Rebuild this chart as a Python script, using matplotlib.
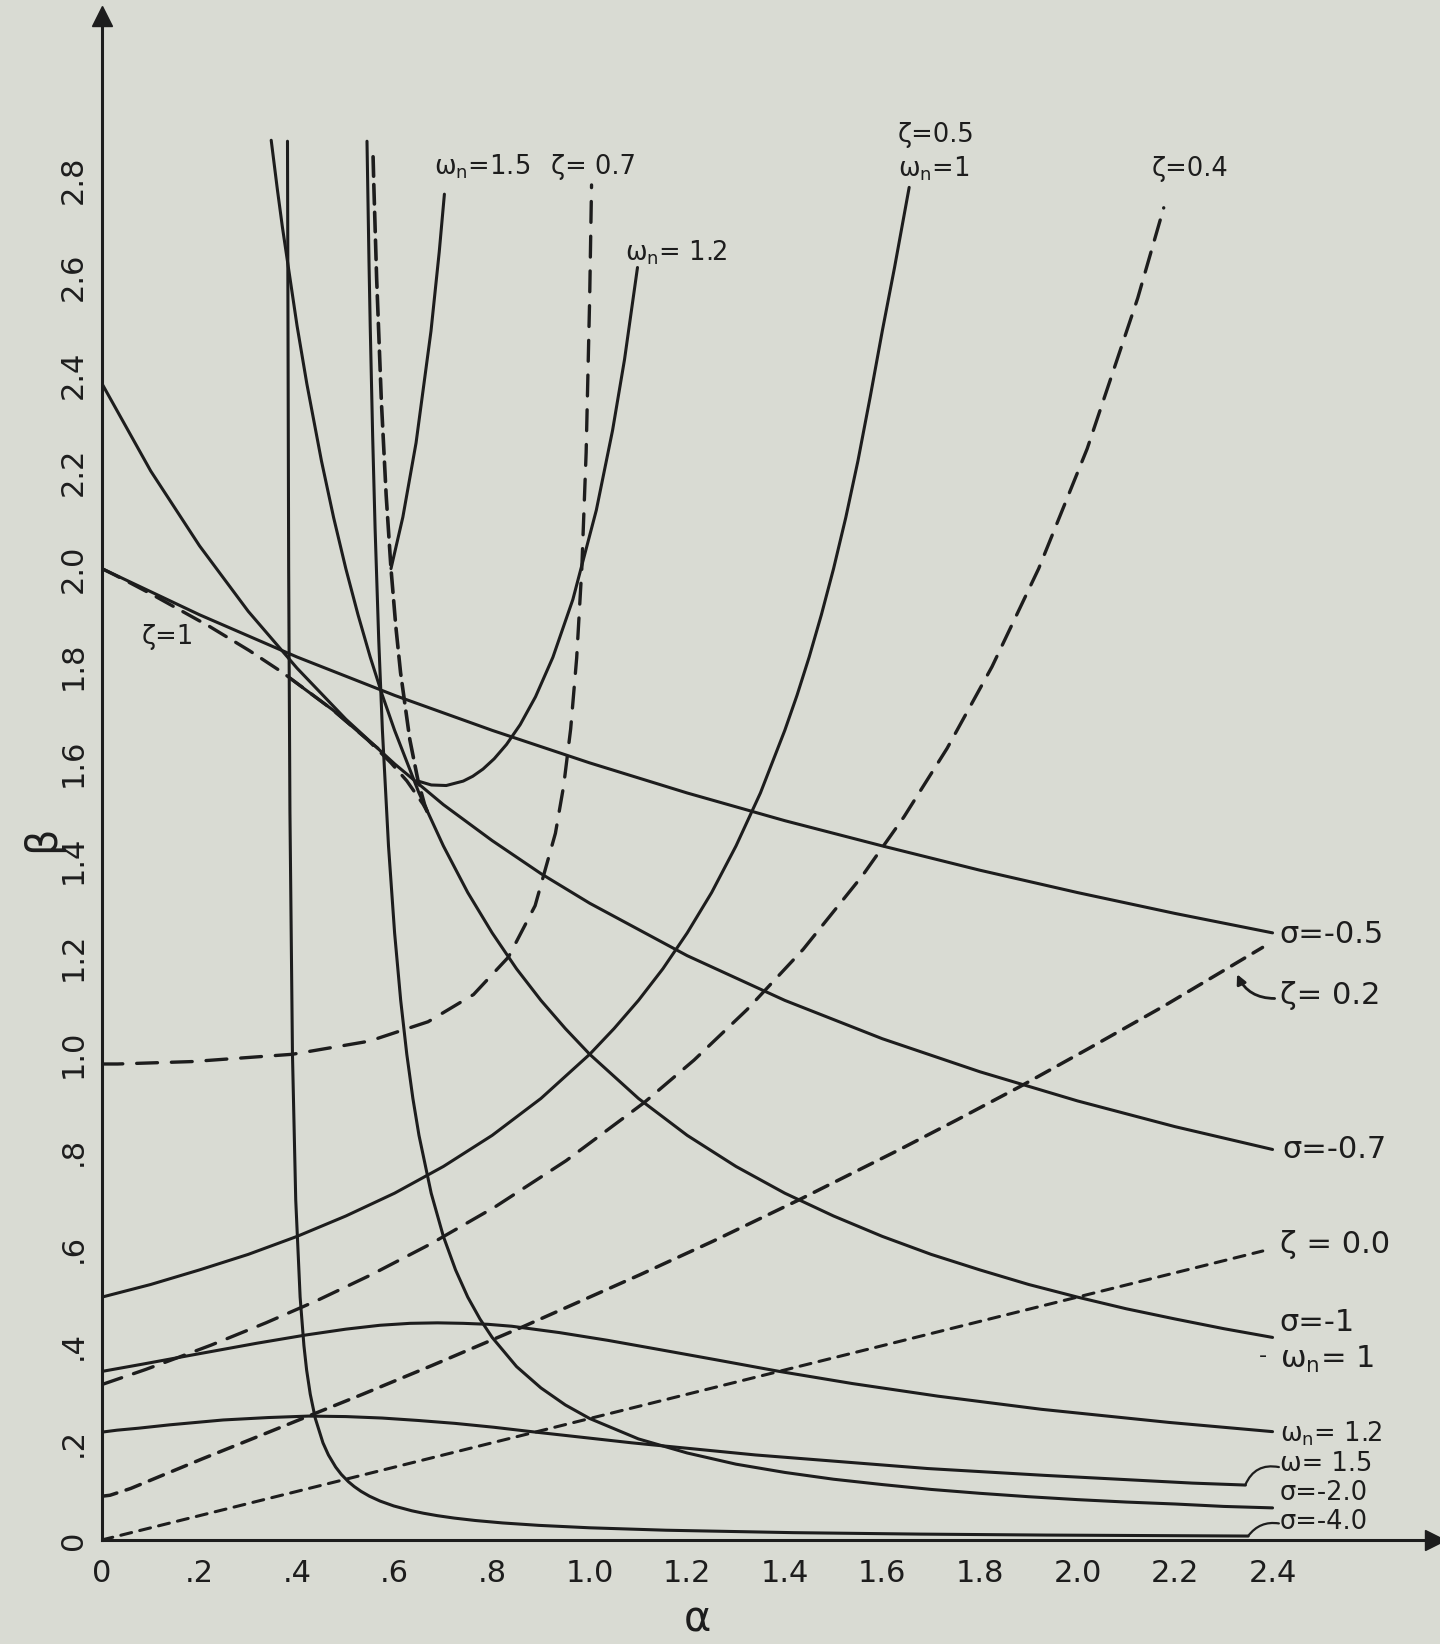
import matplotlib
matplotlib.use("Agg")
import matplotlib.pyplot as plt

plt.rcParams['font.family'] = ['DejaVu Sans']
plt.rcParams['mathtext.fontset'] = 'dejavusans'
plt.rcParams['mathtext.default'] = 'regular'
plt.rcParams['lines.scale_dashes'] = False

PAPER = '#d9dbd3'
INK = '#1d1d1d'

# ---- axis ticks -------------------------------------------------------
x_ticks = [0, 0.2, 0.4, 0.6, 0.8, 1.0, 1.2, 1.4, 1.6, 1.8, 2.0, 2.2, 2.4]
x_tick_labels = ['0', '.2', '.4', '.6', '.8', '1.0', '1.2', '1.4', '1.6',
                 '1.8', '2.0', '2.2', '2.4']
y_ticks = [0, 0.2, 0.4, 0.6, 0.8, 1.0, 1.2, 1.4, 1.6, 1.8, 2.0, 2.2, 2.4,
           2.6, 2.8]
y_tick_labels = ['0', '.2', '.4', '.6', '.8', '1.0', '1.2', '1.4', '1.6',
                 '1.8', '2.0', '2.2', '2.4', '2.6', '2.8']

# ---- constant real root (sigma) curves --------------------------------
sig05_a = [0, 0.2, 0.4, 0.6, 0.8, 1.0, 1.2, 1.4, 1.6, 1.8, 2.0, 2.2, 2.4]
sig05_b = [2.0, 1.905, 1.818, 1.739, 1.667, 1.6, 1.538, 1.481, 1.429, 1.379,
           1.333, 1.29, 1.25]

sig07_a = [0, 0.1, 0.2, 0.3, 0.4, 0.5, 0.6, 0.7, 0.8, 0.9, 1.0, 1.2, 1.4,
           1.6, 1.8, 2.0, 2.2, 2.4]
sig07_b = [2.381, 2.201, 2.047, 1.912, 1.795, 1.690, 1.598, 1.514, 1.44,
           1.372, 1.311, 1.203, 1.111, 1.032, 0.964, 0.904, 0.851, 0.804]

sig1_a = [0.347, 0.36, 0.37, 0.4, 0.42, 0.45, 0.475, 0.5, 0.525, 0.55, 0.575,
          0.6, 0.65, 0.7, 0.75, 0.8, 0.85, 0.9, 0.95, 1.0, 1.1, 1.2, 1.3,
          1.4, 1.5, 1.6, 1.7, 1.8, 1.9, 2.0, 2.1, 2.2, 2.3, 2.4]
sig1_b = [2.882, 2.778, 2.703, 2.5, 2.381, 2.222, 2.105, 2.0, 1.905, 1.818,
          1.739, 1.667, 1.538, 1.429, 1.333, 1.25, 1.176, 1.111, 1.053, 1.0,
          0.909, 0.833, 0.769, 0.714, 0.667, 0.625, 0.588, 0.556, 0.526,
          0.5, 0.476, 0.455, 0.435, 0.417]

sig2_a = [0.5434, 0.5475, 0.55, 0.555, 0.56, 0.5675, 0.575, 0.5875, 0.6,
          0.6125, 0.625, 0.6375, 0.65, 0.675, 0.7, 0.725, 0.75, 0.775, 0.8,
          0.85, 0.9, 0.95, 1.0, 1.1, 1.2, 1.3, 1.4, 1.5, 1.6, 1.7, 1.8, 1.9,
          2.0, 2.1, 2.2, 2.3, 2.4]
sig2_b = [2.88, 2.632, 2.5, 2.273, 2.083, 1.852, 1.667, 1.429, 1.25, 1.111,
          1.0, 0.909, 0.833, 0.714, 0.625, 0.556, 0.5, 0.455, 0.417, 0.357,
          0.313, 0.278, 0.25, 0.208, 0.179, 0.156, 0.139, 0.125, 0.114,
          0.104, 0.096, 0.089, 0.083, 0.078, 0.074, 0.069, 0.066]

sig4_a = [0.3804, 0.3828, 0.3854, 0.3906, 0.3973, 0.4063, 0.4141, 0.4196,
          0.4271, 0.4375, 0.4531, 0.4643, 0.4792, 0.4907, 0.5052, 0.5171,
          0.5313, 0.5486, 0.5703, 0.5982, 0.6354, 0.6591, 0.6875, 0.7222,
          0.7656, 0.8214, 0.8958, 1.0, 1.1563, 1.4167, 1.677, 1.9375, 2.35]
sig4_b = [2.88, 2.0, 1.5, 1.0, 0.7, 0.5, 0.4, 0.35, 0.3, 0.25, 0.2, 0.175,
          0.15, 0.135, 0.12, 0.11, 0.1, 0.09, 0.08, 0.07, 0.06, 0.055, 0.05,
          0.045, 0.04, 0.035, 0.03, 0.025, 0.02, 0.015, 0.012, 0.01, 0.008]

# ---- constant natural frequency curves --------------------------------
wn1_a = [0, 0.1, 0.2, 0.3, 0.4, 0.5, 0.6, 0.7, 0.8, 0.9, 1.0, 1.05, 1.1,
         1.15, 1.2, 1.25, 1.3, 1.35, 1.4, 1.425, 1.45, 1.475, 1.5, 1.525,
         1.55, 1.575, 1.6, 1.625, 1.655]
wn1_b = [0.5, 0.526, 0.556, 0.588, 0.625, 0.667, 0.714, 0.769, 0.833, 0.909,
         1.0, 1.053, 1.111, 1.176, 1.25, 1.333, 1.429, 1.538, 1.667, 1.739,
         1.818, 1.905, 2.0, 2.105, 2.222, 2.353, 2.49, 2.62, 2.785]

wn12_low_a = [0, 0.0834, 0.186, 0.3175, 0.4181, 0.5, 0.5698, 0.6316, 0.688,
              0.7407, 0.7912, 0.8403, 0.9375, 1.037, 1.1429, 1.2587, 1.3889,
              1.5385, 1.7143, 1.9259, 2.1875, 2.4]
wn12_low_b = [0.347, 0.362, 0.381, 0.405, 0.422, 0.434, 0.442, 0.446, 0.447,
              0.446, 0.444, 0.44, 0.427, 0.411, 0.392, 0.371, 0.347, 0.322,
              0.296, 0.269, 0.242, 0.223]

wn12_up_a = [0.6481, 0.6753, 0.7059, 0.7407, 0.7602, 0.7813, 0.8042, 0.8295,
             0.8575, 0.8889, 0.9245, 0.9655, 1.0136, 1.0469, 1.0714, 1.098]
wn12_up_b = [1.5625, 1.5545, 1.5534, 1.5625, 1.5724, 1.5873, 1.6085, 1.638,
             1.6788, 1.7361, 1.8174, 1.9365, 2.1205, 2.2848, 2.4306, 2.62]

wn15_low_a = [0, 0.031, 0.0742, 0.1389, 0.2484, 0.3409, 0.4233, 0.5, 0.5742,
              0.6481, 0.724, 0.8036, 0.8889, 1.086, 1.3397, 1.6931, 1.9318,
              2.2361, 2.3444]
wn15_low_b = [0.222, 0.226, 0.230, 0.237, 0.247, 0.252, 0.255, 0.254, 0.251,
              0.246, 0.24, 0.232, 0.222, 0.2, 0.175, 0.147, 0.133, 0.117,
              0.113]

wn15_up_a = [0.5926, 0.6169, 0.644, 0.6746, 0.6915, 0.7021]
wn15_up_b = [2.0, 2.106, 2.259, 2.489, 2.652, 2.771]

# ---- constant damping ratio curves (dashed) ---------------------------
z0_a = [0, 0.6, 1.2, 1.8, 2.38]
z0_b = [0, 0.15, 0.3, 0.45, 0.595]

z02_a = [0, 0.0165, 0.059, 0.119, 0.2058, 0.3348, 0.4233, 0.5345, 0.6762,
         0.8598, 1.1019, 1.2526, 1.4286, 1.6357, 1.7531, 1.8813, 2.0214,
         2.1751, 2.3795]
z02_b = [0.09, 0.092, 0.106, 0.131, 0.167, 0.219, 0.255, 0.3, 0.359, 0.4375,
         0.5455, 0.615, 0.7, 0.804, 0.865, 0.933, 1.011, 1.098, 1.22]

z04_a = [0, 0.0289, 0.0896, 0.1543, 0.2234, 0.3361, 0.439, 0.551, 0.673,
         0.8063, 0.9518, 1.111, 1.2139, 1.3226, 1.4376, 1.5593, 1.6444,
         1.7328, 1.8248, 1.9205, 2.02, 2.1236, 2.1769]
z04_b = [0.32, 0.33, 0.351, 0.375, 0.401, 0.447, 0.492, 0.5455, 0.609, 0.686,
         0.781, 0.9, 0.988, 1.092, 1.216, 1.368, 1.489, 1.63, 1.798, 2.0,
         2.247, 2.557, 2.743]

z07_a = [0, 0.0321, 0.1852, 0.3906, 0.5479, 0.6687, 0.7618, 0.8333, 0.8881,
         0.9297, 0.9465, 0.961, 0.9733, 0.9838, 0.9927, 1.0, 1.0038]
z07_b = [0.98, 0.98, 0.985, 1.0, 1.027, 1.067, 1.123, 1.2, 1.306, 1.455,
         1.552, 1.67, 1.816, 2.0, 2.239, 2.56, 2.79]

z1_low_a = [0, 0.0261, 0.0513, 0.0986, 0.2204, 0.3025, 0.3704, 0.4734,
            0.5442, 0.5926, 0.625, 0.6584, 0.6667]
z1_low_b = [2.0, 1.987, 1.974, 1.949, 1.881, 1.831, 1.786, 1.709, 1.648,
            1.6, 1.563, 1.515, 1.5]
z1_up_a = [0.6667, 0.6612, 0.6481, 0.6312, 0.6122, 0.6025, 0.5926, 0.5827,
           0.5729, 0.5632, 0.5574, 0.5555]
z1_up_b = [1.5, 1.515, 1.563, 1.648, 1.786, 1.881, 2.0, 2.151, 2.344, 2.597,
           2.79, 2.863]

# heavy stretch of the critical damping boundary
z1_heavy_a = [0.386, 0.4734, 0.5442, 0.566]
z1_heavy_b = [1.774, 1.709, 1.648, 1.630]

# ---- figure ----------------------------------------------------------
fig = plt.figure(figsize=(14.4, 16.44), dpi=100, facecolor=PAPER)
ax = fig.add_axes([0.0708, 0.0633, 0.9257, 0.927])
ax.set_facecolor(PAPER)
ax.set_xlim(0, 2.733)
ax.set_ylim(0, 3.138)

for s in ('top', 'right'):
    ax.spines[s].set_visible(False)
for s in ('left', 'bottom'):
    ax.spines[s].set_linewidth(2.2)
    ax.spines[s].set_color(INK)

ax.plot([1], [0], marker='>', ms=15, color=INK, transform=ax.transAxes,
        clip_on=False)
ax.plot([0], [1], marker='^', ms=15, color=INK, transform=ax.transAxes,
        clip_on=False)

ax.set_xticks(x_ticks)
ax.set_xticklabels(x_tick_labels, fontsize=22, color=INK)
ax.set_yticks(y_ticks)
ax.set_yticklabels(y_tick_labels, fontsize=22, color=INK, rotation=90,
                   va='center')
ax.tick_params(axis='x', length=0, pad=14)
ax.tick_params(axis='y', length=0, pad=10)

solid = dict(color=INK, lw=2.2, solid_capstyle='round',
             solid_joinstyle='round')


def dashed(on, off, lw=2.4):
    return dict(color=INK, lw=lw, ls=(0, (on, off)), dash_capstyle='round')


for a, b in [(sig05_a, sig05_b), (sig07_a, sig07_b), (sig1_a, sig1_b),
             (sig2_a, sig2_b), (sig4_a, sig4_b), (wn1_a, wn1_b),
             (wn12_low_a, wn12_low_b), (wn12_up_a, wn12_up_b),
             (wn15_low_a, wn15_low_b), (wn15_up_a, wn15_up_b),
             (z1_heavy_a, z1_heavy_b)]:
    ax.plot(a, b, **solid)

ax.plot(z0_a, z0_b, **dashed(8, 6, 2.2))
ax.plot(z02_a, z02_b, **dashed(11, 7, 2.5))
ax.plot(z04_a, z04_b, **dashed(15, 9, 2.4))
ax.plot(z07_a, z07_b, **dashed(15, 10, 2.4))
ax.plot(z1_low_a, z1_low_b, **dashed(14, 8, 2.4))
ax.plot(z1_up_a, z1_up_b, **dashed(14, 6, 2.6))

# ---- curve labels ----------------------------------------------------
top = dict(fontsize=18.5, color=INK, ha='left', va='center')
ax.text(0.680, 2.827, r'$\omega_n$=1.5', **top)
ax.text(0.920, 2.827, 'ζ= 0.7', **top)
ax.text(1.073, 2.650, r'$\omega_n$= 1.2', **top)
ax.text(1.632, 2.892, 'ζ=0.5', **top)
ax.text(1.632, 2.823, r'$\omega_n$=1', **top)
ax.text(2.153, 2.823, 'ζ=0.4', **top)
ax.text(0.082, 1.860, 'ζ=1', **top)

right = dict(fontsize=22, color=INK, ha='left', va='center')
ax.text(2.415, 1.246, 'σ=-0.5', **right)
ax.text(2.415, 1.121, 'ζ= 0.2', **right)
ax.text(2.421, 0.803, 'σ=-0.7', **right)
ax.text(2.415, 0.609, 'ζ = 0.0', **right)
ax.text(2.415, 0.447, 'σ=-1', **right)
ax.text(2.415, 0.371, r'$\omega_n$= 1', **right)
ax.text(2.372, 0.378, '-', fontsize=16, color=INK, ha='left', va='center')

low = dict(fontsize=18.5, color=INK, ha='left', va='center')
ax.text(2.415, 0.218, r'$\omega_n$= 1.2', **low)
ax.text(2.415, 0.156, 'ω= 1.5', **low)
ax.text(2.415, 0.097, 'σ=-2.0', **low)
ax.text(2.415, 0.037, 'σ=-4.0', **low)

ax.annotate('', xy=(2.325, 1.17), xytext=(2.41, 1.115),
            arrowprops=dict(arrowstyle='-|>', color=INK, lw=2.0,
                            connectionstyle='arc3,rad=-0.35',
                            mutation_scale=14))
ax.annotate('', xy=(2.344, 0.113), xytext=(2.413, 0.150),
            arrowprops=dict(arrowstyle='-', color=INK, lw=1.6,
                            connectionstyle='arc3,rad=0.4',
                            shrinkA=0, shrinkB=0))
ax.annotate('', xy=(2.35, 0.008), xytext=(2.413, 0.034),
            arrowprops=dict(arrowstyle='-', color=INK, lw=1.6,
                            connectionstyle='arc3,rad=0.3',
                            shrinkA=0, shrinkB=0))

fig.text(0.029, 0.49, 'β', fontsize=30, color=INK, rotation=90,
         ha='center', va='center')
fig.text(0.484, 0.0146, 'α', fontsize=30, color=INK, ha='center',
         va='center')

fig.savefig('out.png', dpi=100, facecolor=PAPER)
